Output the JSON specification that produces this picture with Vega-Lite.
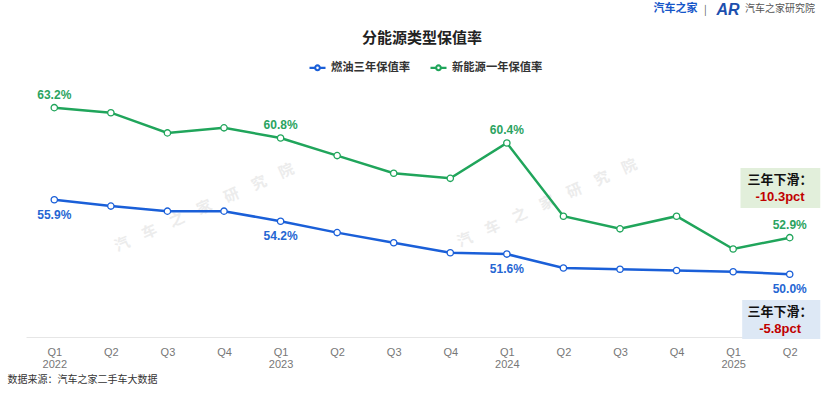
{
  "$schema": "https://vega.github.io/schema/vega-lite/v6.json",
  "width": 792,
  "height": 257,
  "autosize": {"type": "none"},
  "padding": {"left": 26, "top": 80, "right": 12, "bottom": 61},
  "background": "white",
  "config": {"view": {"stroke": null}, "font": "Noto Sans CJK SC"},
  "title": {"text": "分能源类型保值率", "fontSize": 15, "fontWeight": "bold", "font": "Noto Sans CJK SC", "color": "#222222", "anchor": "middle", "offset": 0, "dy": 44},
  "datasets": {
    "main": [
      {"idx": 0, "series": "新能源一年保值率", "value": 63.2, "lbl": "63.2%", "pos": "above"},
      {"idx": 1, "series": "新能源一年保值率", "value": 62.8},
      {"idx": 2, "series": "新能源一年保值率", "value": 61.2},
      {"idx": 3, "series": "新能源一年保值率", "value": 61.6},
      {"idx": 4, "series": "新能源一年保值率", "value": 60.8, "lbl": "60.8%", "pos": "above"},
      {"idx": 5, "series": "新能源一年保值率", "value": 59.4},
      {"idx": 6, "series": "新能源一年保值率", "value": 58.0},
      {"idx": 7, "series": "新能源一年保值率", "value": 57.6},
      {"idx": 8, "series": "新能源一年保值率", "value": 60.4, "lbl": "60.4%", "pos": "above"},
      {"idx": 9, "series": "新能源一年保值率", "value": 54.6},
      {"idx": 10, "series": "新能源一年保值率", "value": 53.6},
      {"idx": 11, "series": "新能源一年保值率", "value": 54.6},
      {"idx": 12, "series": "新能源一年保值率", "value": 52.0},
      {"idx": 13, "series": "新能源一年保值率", "value": 52.9, "lbl": "52.9%", "pos": "above"},
      {"idx": 0, "series": "燃油三年保值率", "value": 55.9, "lbl": "55.9%", "pos": "below"},
      {"idx": 1, "series": "燃油三年保值率", "value": 55.4},
      {"idx": 2, "series": "燃油三年保值率", "value": 55.0},
      {"idx": 3, "series": "燃油三年保值率", "value": 55.0},
      {"idx": 4, "series": "燃油三年保值率", "value": 54.2, "lbl": "54.2%", "pos": "below"},
      {"idx": 5, "series": "燃油三年保值率", "value": 53.3},
      {"idx": 6, "series": "燃油三年保值率", "value": 52.5},
      {"idx": 7, "series": "燃油三年保值率", "value": 51.7},
      {"idx": 8, "series": "燃油三年保值率", "value": 51.6, "lbl": "51.6%", "pos": "below"},
      {"idx": 9, "series": "燃油三年保值率", "value": 50.5},
      {"idx": 10, "series": "燃油三年保值率", "value": 50.4},
      {"idx": 11, "series": "燃油三年保值率", "value": 50.3},
      {"idx": 12, "series": "燃油三年保值率", "value": 50.2},
      {"idx": 13, "series": "燃油三年保值率", "value": 50.0, "lbl": "50.0%", "pos": "below"}
    ],
    "boxes": [
      {"series": "新能源一年保值率", "idx": 12.13, "idx2": 13.54, "value": 58.42, "value2": 55.25},
      {"series": "燃油三年保值率", "idx": 12.16, "idx2": 13.54, "value": 47.96, "value2": 44.87}
    ],
    "notes": [
      {"kind": "head", "idx": 12.83, "value": 57.47, "text": "三年下滑："},
      {"kind": "delta", "idx": 12.83, "value": 56.1, "text": "-10.3pct"},
      {"kind": "head", "idx": 12.83, "value": 47.04, "text": "三年下滑："},
      {"kind": "delta", "idx": 12.83, "value": 45.64, "text": "-5.8pct"}
    ],
    "wm": [
      {"idx": 2.65, "value": 55.29, "text": "汽　车　之　家　研　究　院"},
      {"idx": 8.71, "value": 55.65, "text": "汽　车　之　家　研　究　院"}
    ],
    "logo": [
      {"kind": "brand", "idx": 10.98, "value": 71.0, "text": "汽车之家"},
      {"kind": "sep", "idx": 11.51, "value": 70.94, "text": "|"},
      {"kind": "ar", "idx": 11.91, "value": 70.9, "text": "AR"},
      {"kind": "inst", "idx": 12.83, "value": 71.05, "text": "汽车之家研究院"}
    ]
  },
  "encoding": {
    "x": {
      "field": "idx",
      "type": "quantitative",
      "scale": {"domain": [-0.5, 13.5], "nice": false, "zero": false},
      "axis": {
        "values": [0, 1, 2, 3, 4, 5, 6, 7, 8, 9, 10, 11, 12, 13],
        "labelExpr": "split(['Q1 2022','Q2','Q3','Q4','Q1 2023','Q2','Q3','Q4','Q1 2024','Q2','Q3','Q4','Q1 2025','Q2'][datum.value], ' ')",
        "title": "数据来源：汽车之家二手车大数据",
        "titleX": -19,
        "titleY": 42,
        "titleAlign": "left",
        "titleBaseline": "middle",
        "titleFontSize": 10,
        "titleFontWeight": "normal",
        "titleColor": "#333333",
        "titleFont": "Noto Sans CJK SC",
        "ticks": false,
        "grid": false,
        "domainColor": "#e6e6e6",
        "labelColor": "#777777",
        "labelFontSize": 11,
        "labelFont": "Liberation Sans",
        "labelPadding": 9,
        "labelLineHeight": 12,
        "labelFlush": false,
        "labelOverlap": false
      }
    },
    "y": {
      "field": "value",
      "type": "quantitative",
      "scale": {"domain": [45.03, 65.39], "nice": false, "zero": false},
      "axis": null
    }
  },
  "layer": [
    {
      "data": {"name": "wm"},
      "mark": {"type": "text", "angle": -24, "fontSize": 15, "fontWeight": "bold", "font": "Noto Sans CJK SC", "color": "#d0d0d0", "opacity": 0.4, "align": "center", "baseline": "middle"},
      "encoding": {"text": {"field": "text"}}
    },
    {
      "data": {"name": "boxes"},
      "transform": [{"filter": "datum.series == '新能源一年保值率'"}],
      "mark": {"type": "rect", "color": "#e2efdb"},
      "encoding": {"x2": {"field": "idx2"}, "y2": {"field": "value2"}}
    },
    {
      "data": {"name": "boxes"},
      "transform": [{"filter": "datum.series == '燃油三年保值率'"}],
      "mark": {"type": "rect", "color": "#dde8f5"},
      "encoding": {"x2": {"field": "idx2"}, "y2": {"field": "value2"}}
    },
    {
      "data": {"name": "notes"},
      "transform": [{"filter": "datum.kind == 'head'"}],
      "mark": {"type": "text", "fontSize": 13, "fontWeight": "bold", "font": "Noto Sans CJK SC", "color": "#111111", "align": "center", "baseline": "middle"},
      "encoding": {"text": {"field": "text"}}
    },
    {
      "data": {"name": "notes"},
      "transform": [{"filter": "datum.kind == 'delta'"}],
      "mark": {"type": "text", "fontSize": 13, "fontWeight": "bold", "font": "Liberation Sans", "color": "#c00000", "align": "center", "baseline": "middle"},
      "encoding": {"text": {"field": "text"}}
    },
    {
      "data": {"name": "main"},
      "mark": {"type": "line", "strokeWidth": 2.5},
      "encoding": {
        "color": {
          "field": "series",
          "type": "nominal",
          "scale": {"domain": ["燃油三年保值率", "新能源一年保值率"], "range": ["#1a5fd8", "#20a55b"]},
          "legend": {
            "orient": "none",
            "legendX": 282,
            "legendY": -22,
            "direction": "horizontal",
            "title": null,
            "symbolType": "M-1,0L-0.3,0M0.3,0L1,0M0.3,0A0.3,0.3,0,1,1,-0.3,0A0.3,0.3,0,1,1,0.3,0",
            "symbolSize": 256,
            "symbolStrokeWidth": 2.2,
            "symbolFillColor": "#ffffff",
            "labelFontSize": 11.3,
            "labelFont": "Noto Sans CJK SC",
            "labelFontWeight": "bold",
            "labelColor": "#333333",
            "labelOffset": 4,
            "columnPadding": 15
          }
        }
      }
    },
    {
      "data": {"name": "main"},
      "mark": {"type": "point", "filled": false, "fill": "white", "fillOpacity": 1, "opacity": 1, "size": 40, "strokeWidth": 1.3},
      "encoding": {
        "color": {"field": "series", "type": "nominal"}
      }
    },
    {
      "data": {"name": "main"},
      "transform": [{"filter": "datum.pos == 'above'"}],
      "mark": {"type": "text", "dy": -13, "fontSize": 12, "fontWeight": "bold", "font": "Liberation Sans", "color": "#2ba35f", "align": "center", "baseline": "middle"},
      "encoding": {"text": {"field": "lbl"}}
    },
    {
      "data": {"name": "main"},
      "transform": [{"filter": "datum.pos == 'below'"}],
      "mark": {"type": "text", "dy": 15, "fontSize": 12, "fontWeight": "bold", "font": "Liberation Sans", "color": "#2566d3", "align": "center", "baseline": "middle"},
      "encoding": {"text": {"field": "lbl"}}
    },
    {
      "data": {"name": "logo"},
      "transform": [{"filter": "datum.kind == 'brand'"}],
      "mark": {"type": "text", "fontSize": 11, "fontWeight": "bold", "font": "Noto Sans CJK SC", "color": "#1556c9", "align": "center", "baseline": "middle"},
      "encoding": {"text": {"field": "text"}}
    },
    {
      "data": {"name": "logo"},
      "transform": [{"filter": "datum.kind == 'ar'"}],
      "mark": {"type": "text", "fontSize": 16, "fontWeight": "bold", "fontStyle": "italic", "font": "Liberation Sans", "color": "#1d4fae", "align": "center", "baseline": "middle"},
      "encoding": {"text": {"field": "text"}}
    },
    {
      "data": {"name": "logo"},
      "transform": [{"filter": "datum.kind == 'sep' || datum.kind == 'inst'"}],
      "mark": {"type": "text", "fontSize": 10, "font": "Noto Sans CJK SC", "color": "#555555", "align": "center", "baseline": "middle"},
      "encoding": {"text": {"field": "text"}}
    }
  ]
}
